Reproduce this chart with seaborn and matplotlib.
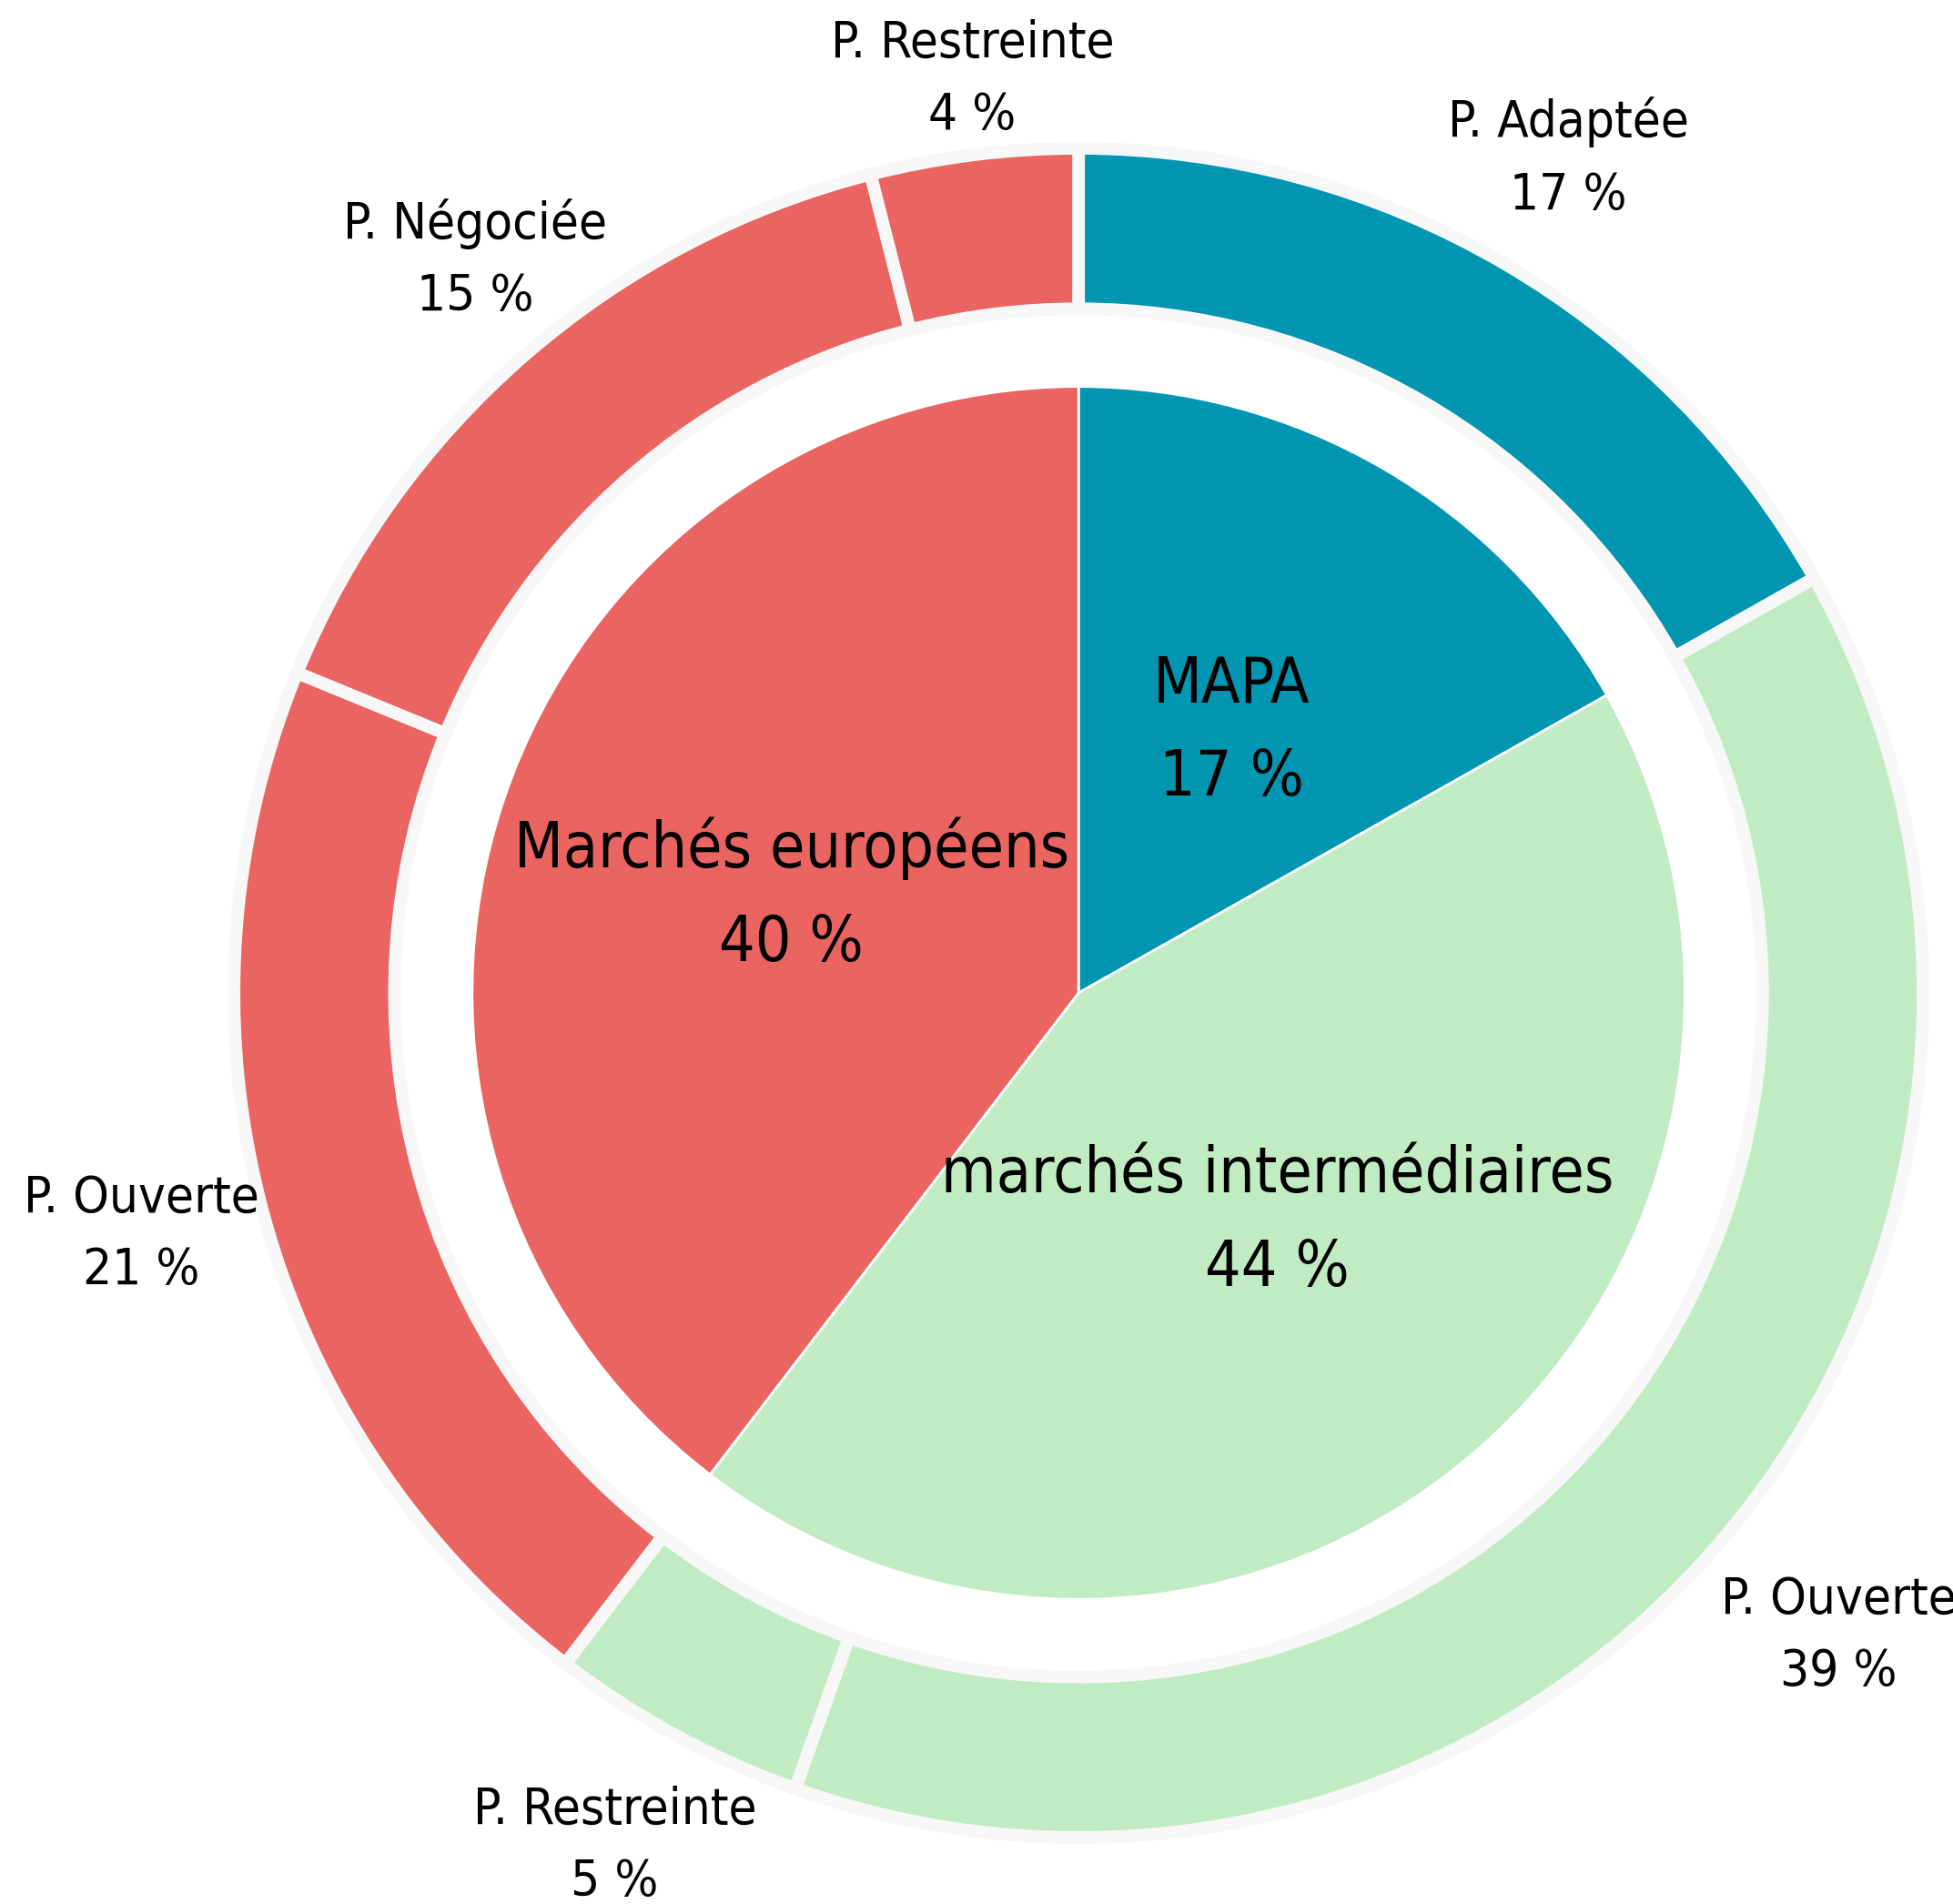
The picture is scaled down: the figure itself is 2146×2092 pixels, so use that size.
#!/usr/bin/env python3

import matplotlib
matplotlib.use('Agg')
import matplotlib.pyplot as plt
from matplotlib import font_manager
import seaborn as sns

SET_DPI = 100
FIGSIZE = (21.46, 20.92)

# inner pie: type of procedure family
inner_names = ['MAPA', 'marchés intermédiaires', 'Marchés européens']
inner_values = [17, 44, 40]

# outer ring: detailed procedure
outer_names = ['P. Adaptée', 'P. Ouverte', 'P. Restreinte',
               'P. Ouverte', 'P. Négociée', 'P. Restreinte']
outer_values = [17, 39, 5, 21, 15, 4]

TEAL = '#0096b1'
SALMON = '#ea6461'
GREEN = '#c1ecc3'
inner_colours = [TEAL, GREEN, SALMON]
outer_colours = [TEAL, GREEN, GREEN, SALMON, SALMON, SALMON]

# small nudges for outer labels (data units), the rest sit on the mid angle
LABEL_SHIFT = [(0.0, -0.005), (0.02, -0.02), (0.0, 0.0),
               (0.0, 0.015), (0.04, 0.0), (0.017, -0.06)]

sns.set_theme(style='white')

available = {f.name for f in font_manager.fontManager.ttflist}
if 'Liberation Sans Narrow' in available:
    FONT = 'Liberation Sans Narrow'
    STRETCH = 'normal'
    INNER_SIZE, OUTER_SIZE = 57, 45
    INNER_LS, OUTER_LS = 1.6, 1.55
else:
    FONT = 'DejaVu Sans'
    STRETCH = 'condensed'
    INNER_SIZE, OUTER_SIZE = 50, 40.5
    INNER_LS, OUTER_LS = 1.68, 1.6
plt.rcParams['font.family'] = [FONT, 'DejaVu Sans']

fig = plt.figure(figsize=FIGSIZE, dpi=SET_DPI)
fig.patch.set_facecolor('white')
ax = fig.add_axes([0.1198, 0.0349, 0.8649, 0.8872])

outer_labels = [f'{n}\n{v} %' for n, v in zip(outer_names, outer_values)]
inner_labels = [f'{n}\n{v} %' for n, v in zip(inner_names, inner_values)]

wedges, texts = ax.pie(outer_values, radius=1.0, colors=outer_colours,
                       startangle=90, counterclock=False,
                       labels=outer_labels, labeldistance=1.15,
                       wedgeprops=dict(width=0.19, edgecolor='#f7f7f7',
                                       linewidth=10))
for t, (dx, dy) in zip(texts, LABEL_SHIFT):
    x, y = t.get_position()
    t.set_position((x + dx, y + dy))
    t.set_ha('center')
    t.set_va('center')
    t.set_fontsize(OUTER_SIZE)
    t.set_fontstretch(STRETCH)
    t.set_linespacing(OUTER_LS)
    t.set_color('black')

wedges, texts = ax.pie(inner_values, radius=0.718, colors=inner_colours,
                       startangle=90, counterclock=False,
                       labels=inner_labels, labeldistance=0.5,
                       wedgeprops=dict(edgecolor='white', linewidth=2))
for t in texts:
    t.set_ha('center')
    t.set_va('center')
    t.set_fontsize(INNER_SIZE)
    t.set_fontstretch(STRETCH)
    t.set_linespacing(INNER_LS)
    t.set_color('black')

ax.set_xlim(-1, 1)
ax.set_ylim(-1, 1)
ax.set_aspect('equal')
ax.axis('off')

fig.savefig('out.png', dpi=SET_DPI)
plt.close()
